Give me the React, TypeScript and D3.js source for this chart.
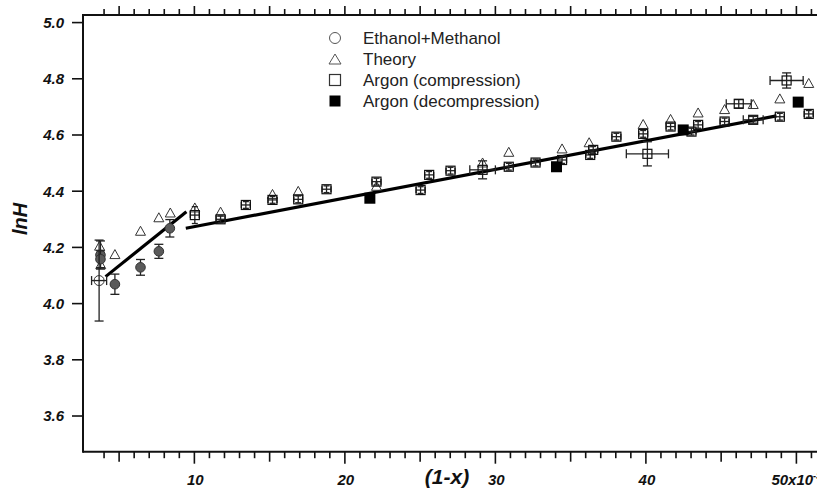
import React from 'react';
import * as d3 from 'd3';

// ---- data ----
const ethanolX = [3.76, 3.76, 4.72, 6.42, 7.64, 8.37];
const ethanolY = [4.173, 4.158, 4.069, 4.129, 4.186, 4.268];
const ethanolYErr = [0.05, 0.03, 0.036, 0.028, 0.025, 0.031];

const ethanolOpenX = [3.67];
const ethanolOpenY = [4.082];
const ethanolOpenXErr = [0.5];
const ethanolOpenYErr = [0.144];

const theoryX = [3.7, 3.78, 4.72, 6.42, 7.64, 8.4, 10.03, 11.74, 15.19, 16.9, 22.1, 29.15, 30.89, 34.43, 36.23, 39.82, 41.64, 43.47, 45.23, 47.13, 48.9, 50.82];
const theoryY = [4.203, 4.137, 4.173, 4.256, 4.304, 4.321, 4.339, 4.324, 4.387, 4.398, 4.416, 4.499, 4.537, 4.549, 4.571, 4.636, 4.654, 4.677, 4.689, 4.707, 4.727, 4.782];

const compX = [10.03, 11.74, 13.42, 15.19, 16.9, 18.78, 22.1, 25.03, 25.6, 27.02, 29.15, 30.89, 32.67, 34.43, 36.3, 36.5, 38.04, 39.82, 40.1, 41.64, 43.03, 43.47, 45.23, 46.17, 47.13, 48.9, 49.35, 50.82];
const compY = [4.315, 4.3, 4.351, 4.369, 4.371, 4.407, 4.434, 4.404, 4.458, 4.473, 4.476, 4.487, 4.502, 4.511, 4.529, 4.547, 4.594, 4.604, 4.533, 4.63, 4.612, 4.636, 4.648, 4.711, 4.654, 4.665, 4.794, 4.675];
const compXErr = [0.3, 0.3, 0.3, 0.3, 0.3, 0.3, 0.3, 0.3, 0.3, 0.3, 0.85, 0.3, 0.3, 0.3, 0.3, 0.3, 0.3, 0.3, 1.4, 0.3, 0.3, 0.3, 0.3, 0.83, 0.66, 0.3, 1.1, 0.3];
const compYErr = [0.03, 0.012, 0.012, 0.012, 0.012, 0.012, 0.012, 0.012, 0.012, 0.012, 0.032, 0.012, 0.012, 0.012, 0.012, 0.012, 0.012, 0.012, 0.043, 0.012, 0.012, 0.012, 0.012, 0.015, 0.012, 0.012, 0.027, 0.012];

const decompX = [21.66, 34.06, 42.48, 50.12];
const decompY = [4.375, 4.487, 4.618, 4.717];

const fit1X = [4.1, 9.47];
const fit1Y = [4.096, 4.327];
const fit2X = [9.43, 48.68];
const fit2Y = [4.268, 4.668];

const yTicks = [3.6, 3.8, 4.0, 4.2, 4.4, 4.6, 4.8, 5.0];
const xMajorTicks = [10, 20, 30, 40, 50];
const legendLabels = ['Ethanol+Methanol', 'Theory', 'Argon (compression)', 'Argon (decompression)'];

const FONT = '"Liberation Sans", Arial, sans-serif';

function ErrBar({ cx, cy, x0, x1, y0, y1, cap }: any) {
  return (
    <g stroke="#222" strokeWidth={1.3}>
      {y0 !== undefined && (
        <>
          <line x1={cx} x2={cx} y1={y0} y2={y1} />
          <line x1={cx - cap} x2={cx + cap} y1={y0} y2={y0} />
          <line x1={cx - cap} x2={cx + cap} y1={y1} y2={y1} />
        </>
      )}
      {x0 !== undefined && (
        <>
          <line x1={x0} x2={x1} y1={cy} y2={cy} />
          <line x1={x0} x2={x0} y1={cy - cap} y2={cy + cap} />
          <line x1={x1} x2={x1} y1={cy - cap} y2={cy + cap} />
        </>
      )}
    </g>
  );
}

function tri(cx: number, cy: number, w: number, h: number) {
  return `M${cx},${cy - h * 0.6}L${cx + w / 2},${cy + h * 0.4}L${cx - w / 2},${cy + h * 0.4}Z`;
}

export default function App() {
  const x = d3.scaleLinear().domain([2.6, 52]).range([83, 826.5]);
  const y = d3.scaleLinear().domain([3.473, 5.027]).range([451.7, 15]);
  const line = d3.line<number[]>().x(d => x(d[0])).y(d => y(d[1]));

  const minorTicks = d3.range(4, 52, 1);
  const top = y.range()[1];
  const bottom = y.range()[0];
  const left = x.range()[0];

  return (
    <svg width={817} height={489} style={{ position: 'absolute', left: 0, top: 0, background: '#fff' }} fontFamily={FONT}>
      {/* frame */}
      <g stroke="#111" strokeWidth={2} fill="none">
        <line x1={left} x2={830} y1={top} y2={top} />
        <line x1={left} x2={830} y1={bottom} y2={bottom} />
        <line x1={left} x2={left} y1={top - 1} y2={bottom + 1} />
      </g>
      {/* x ticks */}
      <g stroke="#111" strokeWidth={1.6}>
        {minorTicks.map(v => {
          const L = v % 10 === 0 ? 12 : v % 5 === 0 ? 10 : 6.5;
          const Lt = v % 5 === 0 ? 9 : 6;
          return (
            <g key={v}>
              <line x1={x(v)} x2={x(v)} y1={bottom} y2={bottom + L} />
              <line x1={x(v)} x2={x(v)} y1={top} y2={top - Lt} />
            </g>
          );
        })}
      </g>
      {/* x labels */}
      <g fontSize={15} fontWeight="bold" fontStyle="italic" fill="#111">
        {xMajorTicks.map(v =>
          v === 50 ? (
            <text key={v} x={x(v) - 25} y={485}>
              50x10<tspan dy={-6} fontSize={9}>-3</tspan>
            </text>
          ) : (
            <text key={v} x={x(v) + 1} y={485} textAnchor="middle">{v}</text>
          )
        )}
        <text x={447} y={484} fontSize={21} textAnchor="middle">(1-x)</text>
      </g>
      {/* y ticks */}
      <g stroke="#111" strokeWidth={1.6}>
        {yTicks.map(v => (
          <line key={v} x1={left - 11} x2={left} y1={y(v)} y2={y(v)} />
        ))}
      </g>
      <g fontSize={15} fontWeight="bold" fontStyle="italic" fill="#111" textAnchor="end">
        {yTicks.map(v => (
          <text key={v} x={64} y={y(v)} dy="0.36em">{v.toFixed(1)}</text>
        ))}
      </g>
      <text transform="translate(27,219) rotate(-90)" textAnchor="middle" fontSize={20} fontWeight="bold" fontStyle="italic" fill="#111">lnH</text>

      {/* fit lines */}
      <path d={line(fit1X.map((v, i) => [v, fit1Y[i]]))!} stroke="#000" strokeWidth={3.2} fill="none" />
      <path d={line(fit2X.map((v, i) => [v, fit2Y[i]]))!} stroke="#000" strokeWidth={3.2} fill="none" />

      {/* theory */}
      <g fill="none" stroke="#333" strokeWidth={1}>
        {theoryX.map((v, i) => (
          <path key={i} d={tri(x(v), y(theoryY[i]), 10, 9)} />
        ))}
      </g>

      {/* ethanol */}
      {ethanolX.map((v, i) => {
        const cx = x(v), cy = y(ethanolY[i]);
        return (
          <g key={i}>
            <ErrBar cx={cx} cy={cy} y0={y(ethanolY[i] + ethanolYErr[i])} y1={y(ethanolY[i] - ethanolYErr[i])} cap={4.5} />
            <circle cx={cx} cy={cy} r={4.8} fill="#5a5a5a" stroke="#333" strokeWidth={1} />
          </g>
        );
      })}
      {ethanolOpenX.map((v, i) => {
        const cx = x(v), cy = y(ethanolOpenY[i]);
        return (
          <g key={i}>
            <ErrBar cx={cx} cy={cy}
              y0={y(ethanolOpenY[i] + ethanolOpenYErr[i])} y1={y(ethanolOpenY[i] - ethanolOpenYErr[i])}
              x0={x(v - ethanolOpenXErr[i])} x1={x(v + ethanolOpenXErr[i])} cap={4.5} />
            <circle cx={cx} cy={cy} r={5} fill="none" stroke="#333" strokeWidth={1} />
          </g>
        );
      })}

      {/* argon compression */}
      {compX.map((v, i) => {
        const cx = x(v), cy = y(compY[i]);
        const big = compXErr[i] > 0.5;
        return (
          <g key={i}>
            <ErrBar cx={cx} cy={cy}
              y0={y(compY[i] + compYErr[i])} y1={y(compY[i] - compYErr[i])}
              x0={x(v - compXErr[i])} x1={x(v + compXErr[i])} cap={big ? 4.5 : 3} />
            <rect x={cx - 4.5} y={cy - 4.5} width={9} height={9} fill="none" stroke="#111" strokeWidth={1.2} />
          </g>
        );
      })}

      {/* argon decompression */}
      <g fill="#000">
        {decompX.map((v, i) => (
          <rect key={i} x={x(v) - 5.5} y={y(decompY[i]) - 5.5} width={11} height={11} />
        ))}
      </g>

      {/* legend */}
      <g fontSize={17} fill="#222">
        {legendLabels.map((t, i) => {
          const ly = 38 + i * 21;
          const sx = 335;
          return (
            <g key={t}>
              {i === 0 && <circle cx={sx} cy={ly} r={5.5} fill="none" stroke="#555" strokeWidth={1} />}
              {i === 1 && <path d={tri(sx, ly + 1, 12, 10)} fill="none" stroke="#555" strokeWidth={1} />}
              {i === 2 && <rect x={sx - 5.5} y={ly - 5.5} width={11} height={11} fill="none" stroke="#333" strokeWidth={1.2} />}
              {i === 3 && <rect x={sx - 5.5} y={ly - 5.5} width={11} height={11} fill="#000" />}
              <text x={363} y={ly} dy="0.36em">{t}</text>
            </g>
          );
        })}
      </g>
    </svg>
  );
}
